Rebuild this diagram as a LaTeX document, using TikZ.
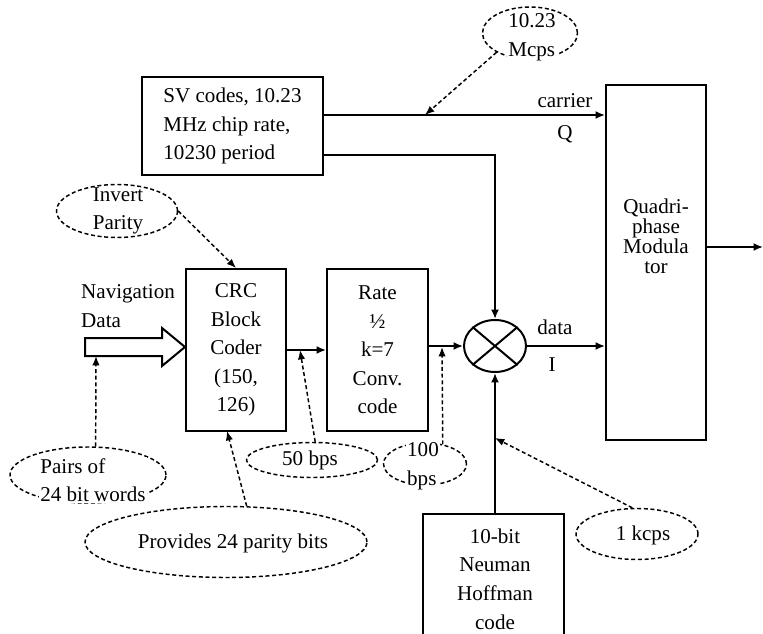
\documentclass[tikz,border=0pt]{standalone}
\usepackage{fontspec}
\setmainfont{Liberation Serif}
\usetikzlibrary{arrows.meta,shapes.geometric}

\begin{document}
\begin{tikzpicture}
[x=0.75pt,y=-0.75pt,line width=1.5pt,
every node/.style={font=\fontsize{15.8}{21.4}\selectfont,align=center},
box/.style={draw,rectangle,inner sep=0pt},
note/.style={draw,ellipse,line width=1.1pt,dash pattern=on 3pt off 2pt,inner sep=0pt},
tag/.style={fill=white,inner sep=1pt},
arr/.style={-{Latex[length=7pt,width=6pt]}},
darr/.style={-{Latex[length=7pt,width=5.5pt]},line width=1.1pt,dash pattern=on 3pt off 2pt}]
\useasboundingbox (0,0) rectangle (763,634);
\node[box,minimum width=135.75pt,minimum height=73.5pt,align=left] (sv) at (232.5,126) {SV codes, 10.23\\MHz chip rate,\\10230 period};
\node[box,minimum width=75pt,minimum height=121.5pt] (crc) at (236,350) {CRC\\Block\\Coder\\(150,\\126)};
\node[box,minimum width=75.75pt,minimum height=121.5pt] (rate) at (377.5,350) {Rate\\½\\k=7\\Conv.\\code};
\node[box,minimum width=75pt,minimum height=266.25pt] (mod) at (656,262.5) {};
\node[font=\fontsize{15.8}{15}\selectfont] (modtext) at (656,236) {Quadri-\\phase\\Modula\\tor};
\node[draw,ellipse,inner sep=0pt,minimum width=46.5pt,minimum height=39pt] (mix) at (495,346) {};
\draw (mix.north west) -- (mix.south east) (mix.north east) -- (mix.south west);
\node[box,minimum width=105.75pt,minimum height=114pt] (nh) at (493.5,590) {};
\node (nhtext) at (495,579) {10-bit\\Neuman\\Hoffman\\code};
\node[align=left] (navtext) at (128,306) {Navigation\\Data};
\node (carrier) at (565,101) {carrier};
\node (q) at (565,134) {Q};
\node (data) at (555,327) {data};
\node (i) at (552,365) {I};
\node[note,minimum width=71.25pt,minimum height=39pt] (mcps) at (530,33) {};
\node[tag,align=left] (mcpstext) at (532,37) {10.23\\Mcps};
\node[note,minimum width=90.75pt,minimum height=39.75pt] (inv) at (117,211) {};
\node[align=left] (invtext) at (118,211) {Invert\\Parity};
\node[note,minimum width=117pt,minimum height=42pt] (pairs) at (88,475) {};
\node[tag,align=left] (pairstext) at (93,480) {Pairs of\\24 bit words};
\node[note,minimum width=211.5pt,minimum height=53.25pt] (prov) at (226,542) {};
\node (provtext) at (233,543) {Provides 24 parity bits};
\node[note,minimum width=98.25pt,minimum height=26.25pt] (fifty) at (312,460) {};
\node (fiftytext) at (310,460) {50 bps};
\node[note,minimum width=62.25pt,minimum height=31.5pt] (hundred) at (425,464) {};
\node[tag,align=left] (hundredtext) at (423,466) {100\\bps};
\node[note,minimum width=91.5pt,minimum height=38.25pt] (kcps) at (637,534) {};
\node (kcpstext) at (643,535) {1 kcps};
\coordinate (navbot) at (96,356);
\coordinate (mcpshit) at (425,115);
\coordinate (fiftyhit) at (300,350);
\coordinate (hundredhit) at (442,347);
\coordinate (kcpshit) at (495,438);
\coordinate (provhit) at (227,431);
\coordinate (out) at (763,247);
\draw (85,338) -- (162,338) -- (162,328) -- ([yshift=2.25pt]crc.west) -- (162,366) -- (162,356) -- (85,356) -- cycle;
\draw[arr] ([yshift=8.25pt]sv.east) coordinate (qstart) -- (qstart -| mod.west);
\draw[arr] ([yshift=-21.75pt]sv.east) -| (mix.north);
\draw[arr] (crc.east) -- (rate.west);
\draw[arr] (mix.west -| rate.east) -- (mix.west);
\draw[arr] (mix.east) -- (mix.east -| mod.west);
\draw[arr] (mix.south |- nh.north) -- (mix.south);
\draw[arr] (out -| mod.east) -- (out);
\foreach \from/\to in {mcps.210/mcpshit,inv.east/crc.north,pairs.75/navbot,prov.60/provhit,fifty.80/fiftyhit,hundred.48/hundredhit,kcps.100/kcpshit}
\draw[darr] (\from) -- (\to);
\end{tikzpicture}
\end{document}
